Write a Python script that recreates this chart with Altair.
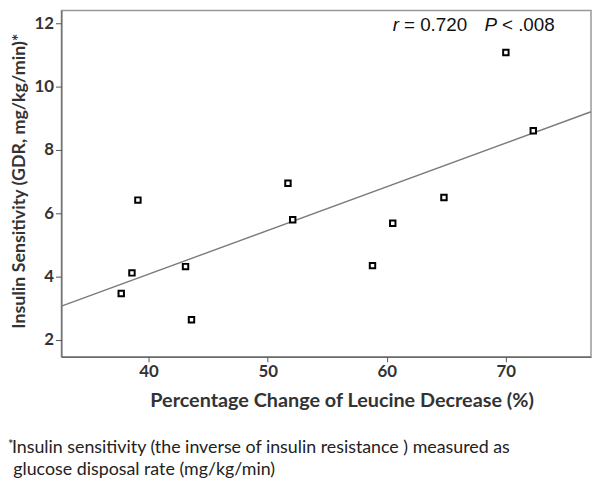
import altair as alt
import pandas as pd

# Data
leucine_decrease = [37.7, 38.6, 39.1, 43.1, 43.6, 51.7, 52.1, 58.8, 60.5, 64.8, 70.0, 72.3]
insulin_sensitivity = [3.46, 4.11, 6.41, 4.31, 2.63, 6.94, 5.79, 4.34, 5.68, 6.49, 11.07, 8.60]
fit_x = [32.68, 77.15]
fit_y = [3.06, 9.20]
x_ticks = [40, 50, 60, 70]
y_ticks = [2, 4, 6, 8, 10, 12]
x_domain = [32.68, 77.15]
y_domain = [1.46, 12.4]
footnote = [
    "Insulin sensitivity (the inverse of insulin resistance ) measured as",
    "glucose disposal rate (mg/kg/min)",
]

pts = pd.DataFrame({"x": leucine_decrease, "y": insulin_sensitivity})
fit = pd.DataFrame({"x": fit_x, "y": fit_y})

LAB = "#333333"
FONT = "Lato"

xenc = alt.X(
    "x:Q",
    scale=alt.Scale(domain=x_domain, nice=False, zero=False),
    axis=alt.Axis(
        values=x_ticks, grid=False, title="Percentage Change of Leucine Decrease (%)",
        labelFont=FONT, labelFontWeight="bold", labelFontSize=17, labelColor=LAB,
        tickSize=5, tickColor="#555", domainColor="#555", labelPadding=2,
        titleFont=FONT, titleFontWeight="bold", titleFontSize=20, titleColor=LAB,
        titleX=283, titleY=44, titleBaseline="middle", titleAlign="center",
    ),
)
yenc = alt.Y(
    "y:Q",
    scale=alt.Scale(domain=y_domain, nice=False, zero=False),
    axis=alt.Axis(
        values=y_ticks, grid=False, title="Insulin Sensitivity (GDR, mg/kg/min)*",
        labelFont=FONT, labelFontWeight="bold", labelFontSize=17, labelColor=LAB,
        tickSize=6, tickColor="#555", domainColor="#555", labelPadding=2,
        titleFont=FONT, titleFontWeight="bold", titleFontSize=18, titleColor=LAB,
        titleX=-42, titleY=172, titleBaseline="middle", titleAlign="center", titleAngle=-90,
    ),
)

line = alt.Chart(fit).mark_line(color="#7a7a7a", strokeWidth=1.4).encode(x=xenc, y=yenc)
points = alt.Chart(pts).mark_point(
    shape="square", size=30, filled=False, color="black", strokeWidth=2, fill="white", fillOpacity=1
).encode(x="x:Q", y="y:Q")


def txt(label, x, y, **kw):
    return alt.Chart(pd.DataFrame({"t": [label]})).mark_text(
        align="left", baseline="alphabetic", **kw
    ).encode(text="t:N", x=alt.value(x), y=alt.value(y))


ann_kw = dict(font="Liberation Sans", fontSize=19, color="#111111")
ann = (
    txt("r", 334.7, 21.3, fontStyle="italic", **ann_kw)
    + txt("= 0.720", 346, 21.3, **ann_kw)
    + txt("P", 427.3, 21.3, fontStyle="italic", **ann_kw)
    + txt("< .008", 445, 21.3, **ann_kw)
)

foot = (
    txt("*", -54, 443, font=FONT, fontSize=13, color="#222222")
    + txt(footnote[0], -50, 447, font=FONT, fontSize=18, color="#222222")
    + txt(footnote[1], -48.7, 469, font=FONT, fontSize=18, color="#222222")
)

chart = (
    alt.layer(line, points, ann, foot)
    .properties(
        width=535, height=350,
        autosize=alt.AutoSizeParams(type="none"),
        padding={"left": 54, "top": 0, "right": 2, "bottom": 121},
        background="white",
    )
    .configure_view(stroke="#999999", strokeWidth=1.5)
)

chart.save("out.html", embed_options={"renderer": "svg", "actions": False})
